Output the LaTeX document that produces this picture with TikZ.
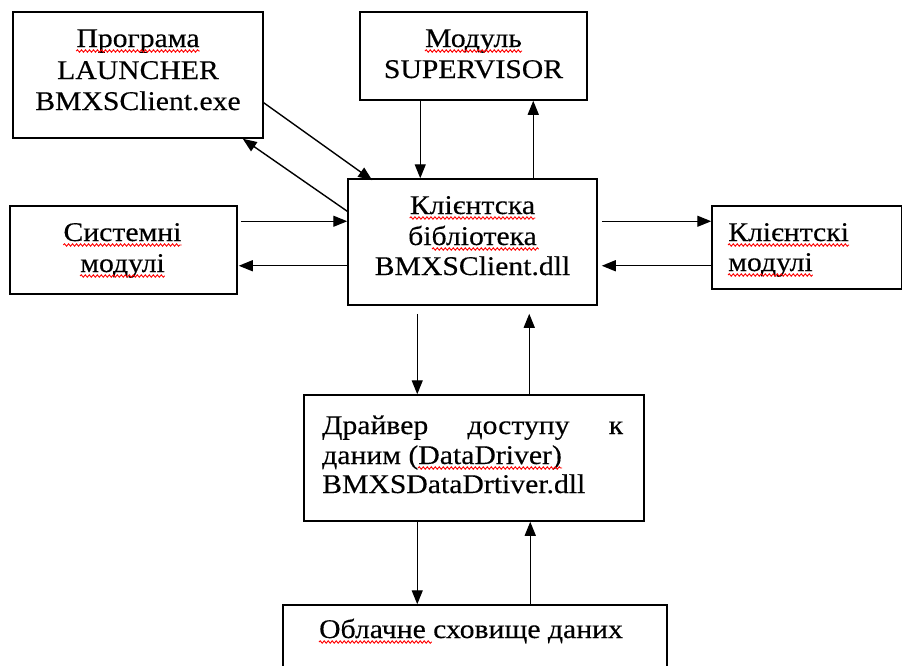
\documentclass[tikz,border=0pt]{standalone}
\usepackage{fontspec}
\setmainfont{Liberation Serif}[FakeStretch=1.1,FakeBold=0.3]
\usetikzlibrary{arrows.meta,calc,decorations.pathmorphing}

\begin{document}
\begin{tikzpicture}[x=1pt,y=-1pt,
  block/.style={draw, line width=1.5pt, inner sep=0pt},
  txt/.style={inner sep=0pt, anchor=base, font=\fontsize{27}{32}\selectfont},
  txtl/.style={txt, anchor=base west},
  arr/.style={line width=1.4pt, -{Triangle[length=14pt,width=11pt]}},
  spell/.style={draw=red, line width=0.9pt, decorate,
    decoration={snake, amplitude=1.2pt, segment length=4pt}}]

\useasboundingbox (0,0) rectangle (903,665);
\clip (0,0) rectangle (903,665);
\fill[white] (0,0) rectangle (903,665);

% boxes
\node[block, minimum width=250pt, minimum height=126pt] (la) at (138,75) {};
\node[block, minimum width=227pt, minimum height=88pt]  (sv) at (473.5,56) {};
\node[block, minimum width=249pt, minimum height=126pt] (cl) at (472.5,242) {};
\node[block, minimum width=227pt, minimum height=88pt]  (sy) at (123.5,250) {};
\node[block, minimum width=189.5pt, minimum height=83pt] (cm) at (806.75,247.5) {};
\node[block, minimum width=340pt, minimum height=126pt] (dr) at (474,458) {};
\node[block, minimum width=384pt, minimum height=100pt] (cd) at (475,655) {};

% texts
\node[txt] (la1) at (138,47)  {Програма};
\node[txt] (la2) at (138,79)  {LAUNCHER};
\node[txt] (la3) at (138,110) {BMXSClient.exe};

\node[txt] (sv1) at (473.5,47) {Модуль};
\node[txt] (sv2) at (473.5,78) {SUPERVISOR};

\node[txt] (cl1) at (472.5,214) {Клієнтска};
\node[txt] (cl2) at (472.5,245) {бібліотека};
\node[txt] (cl3) at (472.5,275) {BMXSClient.dll};

\node[txt] (sy1) at (122.5,241) {Системні};
\node[txt] (sy2) at (122.5,272) {модулі};

\node[txtl] (cm1) at (728,241) {Клієнтскі};
\node[txtl] (cm2) at (728,271) {модулі};

\node[txtl] (dr1) at (322,434) {\makebox[301pt][s]{Драйвер\hfill доступу\hfill к}};
\node[txtl] (dr2) at (322,464) {даним (DataDriver)};
\node[txtl] (dr3) at (322,493) {BMXSDataDrtiver.dll};

\node[txt] (cd1) at (471,638) {Облачне сховище даних};

% spell-check marks
\draw[spell] ($(la1.base west)+(0,4)$) -- ($(la1.base east)+(0,4)$);
\draw[spell] ($(sv1.base west)+(0,4)$) -- ($(sv1.base east)+(0,4)$);
\draw[spell] ($(cl1.base west)+(0,4)$) -- ($(cl1.base east)+(0,4)$);
\draw[spell] ($(cl2.base west)+(24,4)$) -- ($(cl2.base east)+(2,4)$);
\draw[spell] ($(sy1.base west)+(0,4)$) -- ($(sy1.base east)+(0,4)$);
\draw[spell] ($(sy2.base west)+(0,4)$) -- ($(sy2.base east)+(0,4)$);
\draw[spell] ($(cm1.base west)+(0,4)$) -- ($(cm1.base east)+(0,4)$);
\draw[spell] ($(cm2.base west)+(0,4)$) -- ($(cm2.base east)+(0,4)$);
\draw[spell] ($(dr2.base west)+(96,4)$) -- ($(dr2.base west)+(240,4)$);
\draw[spell] ($(cd1.base west)+(0,4)$) -- ($(cd1.base west)+(113,4)$);

% connectors
\draw[arr] ($(la.south east)+(0,-36)$) -- ($(cl.north west)+(25,2)$);
\draw[arr] ($(cl.north west)+(0,33)$) -- ($(la.south east)+(-21,0)$);

\draw[arr] ($(sv.south west)+(61,0)$) coordinate (p1) -- (p1 |- cl.north);
\draw[arr] ($(cl.north west)+(186,0)$) coordinate (p2) -- (p2 |- sv.south);

\draw[arr] ($(sy.north east)+(3,16)$) coordinate (p3) -- (p3 -| cl.west);
\draw[arr] ($(cl.south west)+(0,-40)$) coordinate (p4) -- ($(p4 -| sy.east)+(1,0)$);

\draw[arr] ($(cl.north east)+(4,43)$) coordinate (p5) -- (p5 -| cm.west);
\draw[arr] ($(cm.south west)+(0,-24)$) coordinate (p6) -- ($(p6 -| cl.east)+(4,0)$);

\draw[arr] ($(cl.south west)+(70,8)$) coordinate (p7) -- (p7 |- dr.north);
\draw[arr] ($(dr.north west)+(226,0)$) coordinate (p8) -- ($(p8 |- cl.south)+(0,8)$);

\draw[arr] ($(dr.south west)+(114,0)$) coordinate (p9) -- (p9 |- cd.north);
\draw[arr] ($(cd.north west)+(248,0)$) coordinate (p10) -- (p10 |- dr.south);

\end{tikzpicture}
\end{document}
